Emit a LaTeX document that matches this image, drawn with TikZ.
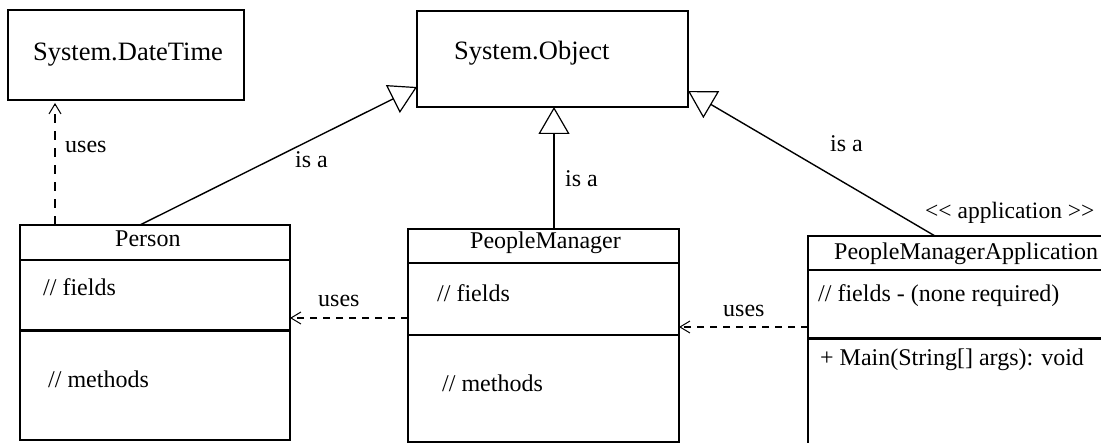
\documentclass[tikz,border=0pt]{standalone}
\usepackage{fontspec}
\setmainfont{Liberation Serif}
\usetikzlibrary{arrows.meta}
\begin{document}
\begin{tikzpicture}[x=1pt,y=-1pt,
  box/.style={draw, line width=2pt, anchor=north west, inner sep=0pt, outer sep=0pt},
  txt/.style={anchor=base west, inner sep=0pt, font=\fontsize{24}{28}\selectfont},
  systxt/.style={txt, font=\fontsize{26.5}{30}\selectfont},
  stereo/.style={txt, font=\fontsize{23.5}{27}\selectfont},
  divider/.style={line width=2pt},
  thickdivider/.style={line width=3pt},
  isaline/.style={line width=1.4pt, -{Triangle[open, length=27pt, width=31pt, line width=1.2pt]}},
  usesline/.style={line width=2pt, dash pattern=on 7pt off 6pt,
    -{Straight Barb[length=10pt, width=12pt, line width=1pt]}}
]
\useasboundingbox (0,0) rectangle (1101,443);
\clip (0,0) rectangle (1101,443);

% framework classes
\node[box, minimum width=236pt, minimum height=90pt] (dt) at (8,10) {};
\node[systxt] (dtname) at (33,61) {System.DateTime};
\node[box, minimum width=271pt, minimum height=96pt] (obj) at (417,11) {};
\node[systxt] (objname) at (454,60) {System.Object};

% Person
\node[box, minimum width=270pt, minimum height=215pt] (person) at (20,225) {};
\draw[divider] ([yshift=-35pt]person.north west) -- ([yshift=-35pt]person.north east);
\draw[thickdivider] ([yshift=-106pt]person.north west) -- ([yshift=-106pt]person.north east);
\node[txt] (personname) at (115,247) {Person};
\node[txt] (personfields) at (43,296) {// fields};
\node[txt] (personmethods) at (48,388) {// methods};

% PeopleManager
\node[box, minimum width=271pt, minimum height=213pt] (pm) at (408,229) {};
\draw[divider] ([yshift=-34pt]pm.north west) -- ([yshift=-34pt]pm.north east);
\draw[divider] ([yshift=-106pt]pm.north west) -- ([yshift=-106pt]pm.north east);
\node[txt] (pmname) at (470,249) {PeopleManager};
\node[txt] (pmfields) at (437,302) {// fields};
\node[txt] (pmmethods) at (442,392) {// methods};

% PeopleManagerApplication (runs past the right and bottom edges)
\node[box, minimum width=300pt, minimum height=230pt] (pma) at (808,236) {};
\draw[divider] ([yshift=-34pt]pma.north west) -- ([yshift=-34pt]pma.north east);
\draw[thickdivider] ([yshift=-103pt]pma.north west) -- ([yshift=-103pt]pma.north east);
\node[txt] (pmaname) at (834,260) {PeopleManagerApplication};
\node[txt] (pmafields) at (818,302) {// fields - (none required)};
\node[txt] (pmamain) at (820,366) {+ Main(String[] args): void};
\node[stereo] (pmastereo) at (925,219) {<\kern0pt< application >\kern0pt>};

% inheritance
\draw[isaline] ([xshift=120pt]person.north west) -- ([yshift=-76pt]obj.north west);
\node[txt] (isa1) at (295,168) {is a};
\draw[isaline, line width=2pt] ([xshift=146pt]pm.north west) -- ([xshift=146pt]pm.north west |- obj.south);
\node[txt] (isa2) at (565,187) {is a};
\draw[isaline] ([xshift=127pt]pma.north west) -- ([yshift=-80pt]obj.north east);
\node[txt] (isa3) at (830,152) {is a};

% dependencies
\draw[usesline, dash pattern=on 9pt off 8pt] ([xshift=35pt]person.north west) -- ([xshift=35pt,yshift=-3pt]person.north west |- dt.south);
\node[txt] (uses1) at (65,153) {uses};
\draw[usesline] ([yshift=-89pt]pm.north west) -- ([yshift=-89pt]pm.north west -| person.east);
\node[txt] (uses2) at (318,307) {uses};
\draw[usesline] ([yshift=-91pt]pma.north west) -- ([yshift=-91pt]pma.north west -| pm.east);
\node[txt] (uses3) at (723,317) {uses};
\end{tikzpicture}
\end{document}
